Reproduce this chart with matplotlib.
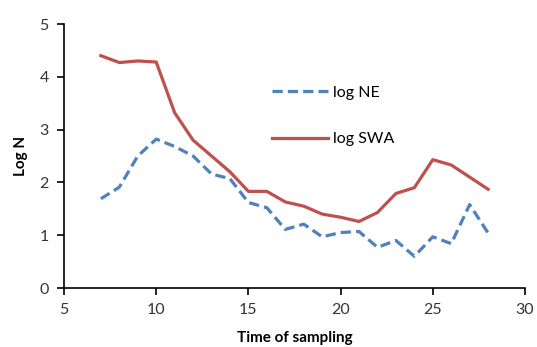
import numpy as np
import matplotlib
matplotlib.use('Agg')
import matplotlib.pyplot as plt

# Data
time = [7, 8, 9, 10, 11, 12, 13, 14, 15, 16, 17, 18, 19, 20, 21, 22, 23, 24, 25, 26, 27, 28]
log_ne = [1.69, 1.91, 2.50, 2.82, 2.68, 2.50, 2.16, 2.07, 1.62, 1.52, 1.11, 1.21,
          0.97, 1.05, 1.07, 0.77, 0.90, 0.60, 0.97, 0.84, 1.58, 1.04]
log_swa = [4.40, 4.27, 4.30, 4.28, 3.32, 2.80, 2.50, 2.20, 1.83, 1.83, 1.63, 1.55,
           1.40, 1.34, 1.26, 1.43, 1.79, 1.90, 2.43, 2.33, 2.10, 1.87]

plt.rc('font', family=['Lato', 'DejaVu Sans'])

fig = plt.figure(figsize=(5.37, 3.47), dpi=100)
ax = fig.add_axes([64/537, 1-288/347, (525-64)/537, (288-24)/347])

ax.plot(time, log_ne, color='#4F81BD', lw=2.3, dashes=(3.2, 1.6),
        dash_capstyle='butt', label='log NE')
ax.plot(time, log_swa, color='#C0504D', lw=2.3, label='log SWA')

ax.set_xlim(5, 30)
ax.set_ylim(0, 5)
ax.set_xticks([5, 10, 15, 20, 25, 30])
ax.set_yticks([0, 1, 2, 3, 4, 5])
ax.spines['top'].set_visible(False)
ax.spines['right'].set_visible(False)
ax.spines['left'].set_linewidth(1.2)
ax.spines['bottom'].set_linewidth(1.2)
ax.tick_params(direction='out', length=5, width=1.2, labelsize=11.5,
               colors='black', labelcolor='#333333', pad=6)

ax.set_xlabel('Time of sampling', fontsize=11, fontweight='bold', labelpad=10)
ax.set_ylabel('Log N', fontsize=11, fontweight='bold', labelpad=8)

ax.legend(loc='upper left', bbox_to_anchor=(0.42, 0.82), frameon=False,
          fontsize=11.5, labelspacing=2.0, handlelength=3.5, handletextpad=0.3)

fig.savefig('out.png', dpi=100)
